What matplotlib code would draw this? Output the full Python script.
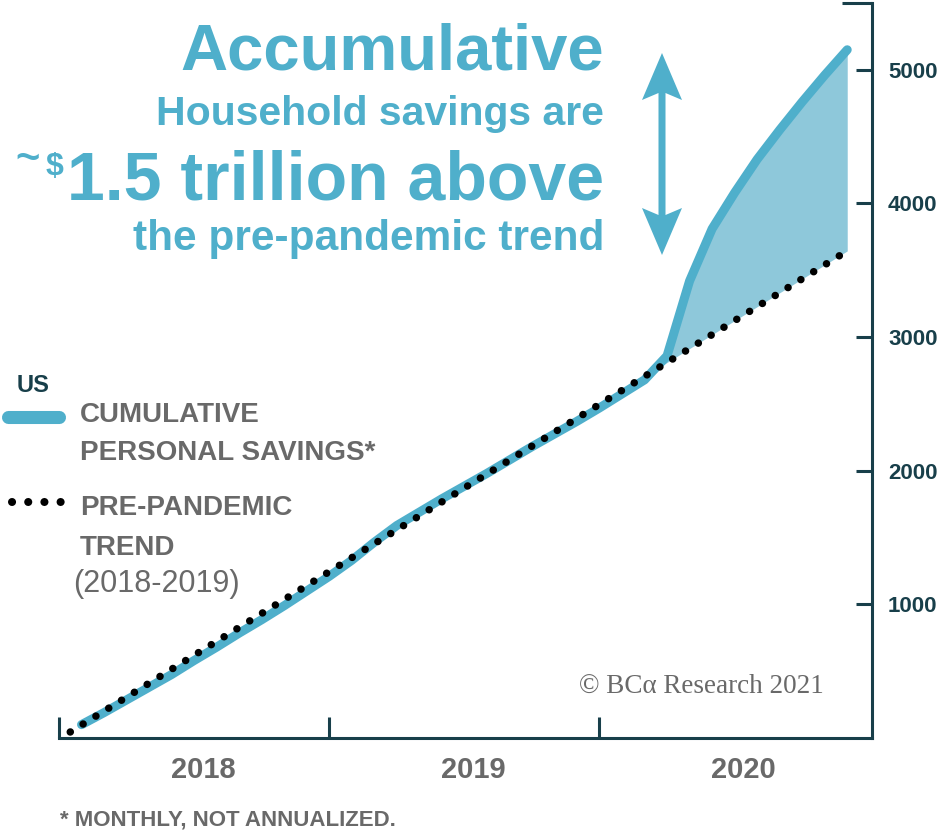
import numpy as np
import matplotlib
matplotlib.use("Agg")
import matplotlib.pyplot as plt
from matplotlib import font_manager
from matplotlib.lines import Line2D
from matplotlib.patches import Polygon
from matplotlib.transforms import Affine2D

# ---- data (billions of USD, cumulative since Jan 2018) ----
# each monthly value sits at the end of its month: Jan 2018 = 1 ... Nov 2020 = 35
months = np.arange(1, 36)
savings = [100, 190, 285, 380, 475, 580, 680, 785, 885, 990, 1100, 1210,
           1330, 1465, 1590, 1690, 1790, 1885, 1980, 2080, 2180, 2275, 2370, 2470,
           2575, 2680, 2860, 3420, 3810, 4080, 4330, 4550, 4760, 4960, 5150]

# pre-pandemic (2018-2019) linear trend, start and end of the drawn line
trend_months = [0.5, 35.05]
trend_values = [45, 3650]

year_labels = ["2018", "2019", "2020"]
year_ticks = [0, 12, 24]
year_label_pos = [6.4, 18.4, 30.4]
y_ticks = [1000, 2000, 3000, 4000, 5000]

BLUE = "#4fafcb"
FILL = "#8ec8da"
TEAL = "#183f4a"
GRAY = "#696969"

names = {f.name for f in font_manager.fontManager.ttflist}
SANS = "Liberation Sans" if "Liberation Sans" in names else "DejaVu Sans"
NARROW = "Liberation Sans Narrow" if "Liberation Sans Narrow" in names else SANS
SERIF = "Liberation Serif" if "Liberation Serif" in names else "DejaVu Serif"
legend_size = 24 if NARROW != SANS else 20

W, H = 940, 833
fig = plt.figure(figsize=(W / 100, H / 100), dpi=100)
# pixel coordinates with origin top-left, like the reference image
px = Affine2D().scale(1 / W, -1 / H).translate(0, 1) + fig.transFigure

ax = fig.add_axes([59 / W, 95 / H, 813 / W, 735 / H])
ax.set_xlim(0, 36.1)
ax.set_ylim(0, 5500)

# gap between savings and trend after the pandemic hit
trend_at_months = np.interp(months, trend_months, trend_values)
sav = np.array(savings, dtype=float)
ax.fill_between(months, sav, trend_at_months, where=(months >= 26) & (sav >= trend_at_months),
                interpolate=True, color=FILL, lw=0, zorder=1)

ax.plot(months, savings, color=BLUE, lw=6.5, solid_capstyle="round",
        solid_joinstyle="round", zorder=2)
ax.plot(trend_months, trend_values, color="black", lw=5.4,
        linestyle=(0, (0.01, 2.0)), dash_capstyle="round", zorder=3)

# axes styling
for side in ["left", "top"]:
    ax.spines[side].set_visible(False)
for side in ["bottom", "right"]:
    ax.spines[side].set_color(TEAL)
    ax.spines[side].set_linewidth(2.2)

ax.set_xticks(year_ticks)
ax.set_xticklabels([])
ax.set_xticks(year_label_pos, minor=True)
ax.set_xticklabels(year_labels, minor=True)
ax.tick_params(axis="x", which="major", direction="in", length=15, width=2.2, color=TEAL)
ax.tick_params(axis="x", which="minor", length=0, pad=13, labelsize=21, labelcolor=GRAY)
for lab in ax.get_xticklabels(minor=True):
    lab.set_fontfamily(SANS)
    lab.set_fontweight("bold")

ax.yaxis.tick_right()
ax.set_yticks(y_ticks)
ax.set_yticklabels([str(v) for v in y_ticks])
ax.set_yticks([5500], minor=True)
ax.tick_params(axis="y", which="major", direction="in", length=11.5, width=2.2,
               color=TEAL, pad=11.5, labelsize=16, labelcolor=TEAL)
ax.tick_params(axis="y", which="minor", direction="in", length=21.5, width=2.2, color=TEAL)
for lab in ax.get_yticklabels():
    lab.set_fontfamily(SANS)
    lab.set_fontweight("bold")

# ---- headline ----
fig.text(604, 70, "Accumulative", transform=px, ha="right", va="baseline",
         fontsize=47, fontweight="bold", color=BLUE, family=SANS)
fig.text(604, 125, "Household savings are", transform=px, ha="right", va="baseline",
         fontsize=29.5, fontweight="bold", color=BLUE, family=SANS)
big = fig.text(604, 200, "1.5 trillion above", transform=px, ha="right", va="baseline",
               fontsize=49, fontweight="bold", color=BLUE, family=SANS)
fig.text(604, 250, "the pre-pandemic trend", transform=px, ha="right", va="baseline",
         fontsize=30.5, fontweight="bold", color=BLUE, family=SANS)

fig.canvas.draw()
bb = big.get_window_extent()
left_px = bb.x0 * W / fig.bbox.width
fig.text(left_px - 3, 175, "$", transform=px, ha="right", va="baseline",
         fontsize=23, fontweight="bold", color=BLUE, family=SANS)
fig.text(left_px - 27, 171, "~", transform=px, ha="right", va="baseline",
         fontsize=30, fontweight="bold", color=BLUE, family=SANS)

# double-headed arrow next to the headline
ax_c, top, bot, hw, hl, notch, sw = 662, 53, 255, 20, 47, 7, 3.5
arrow = [(ax_c, top), (ax_c + hw, top + hl), (ax_c + sw, top + hl - notch),
         (ax_c + sw, bot - hl + notch), (ax_c + hw, bot - hl), (ax_c, bot),
         (ax_c - hw, bot - hl), (ax_c - sw, bot - hl + notch),
         (ax_c - sw, top + hl - notch), (ax_c - hw, top + hl)]
fig.add_artist(Polygon(arrow, closed=True, transform=px, color=BLUE, lw=0))

# ---- legend ----
fig.text(17, 392, "US", transform=px, ha="left", va="baseline",
         fontsize=17, fontweight="bold", color=TEAL, family=SANS)
fig.add_artist(Line2D([8, 59], [417, 417], transform=px, color=BLUE, lw=9.4,
                      solid_capstyle="round"))
fig.text(80, 422, "CUMULATIVE", transform=px, ha="left", va="baseline",
         fontsize=legend_size, fontweight="bold", color=GRAY, family=NARROW)
fig.text(80, 460, "PERSONAL SAVINGS*", transform=px, ha="left", va="baseline",
         fontsize=legend_size, fontweight="bold", color=GRAY, family=NARROW)
fig.add_artist(Line2D([12, 61], [502, 502], transform=px, color="black", lw=5.8,
                      linestyle=(0, (0.01, 2.0)), dash_capstyle="round"))
fig.text(80, 515, "PRE-PANDEMIC", transform=px, ha="left", va="baseline",
         fontsize=legend_size, fontweight="bold", color=GRAY, family=NARROW)
fig.text(80, 555, "TREND", transform=px, ha="left", va="baseline",
         fontsize=legend_size, fontweight="bold", color=GRAY, family=NARROW)
fig.text(73, 592, "(2018-2019)", transform=px, ha="left", va="baseline",
         fontsize=legend_size + 2, color=GRAY, family=NARROW)

# ---- footnote and source ----
fig.text(60, 826, "* MONTHLY, NOT ANNUALIZED.", transform=px, ha="left", va="baseline",
         fontsize=16, fontweight="bold", color=GRAY, family=SANS)
fig.text(824, 693, "\u00a9 BC\u03b1 Research 2021", transform=px, ha="right", va="baseline",
         fontsize=19.5, color=GRAY, family=SERIF)

fig.savefig("out.png", dpi=100)
